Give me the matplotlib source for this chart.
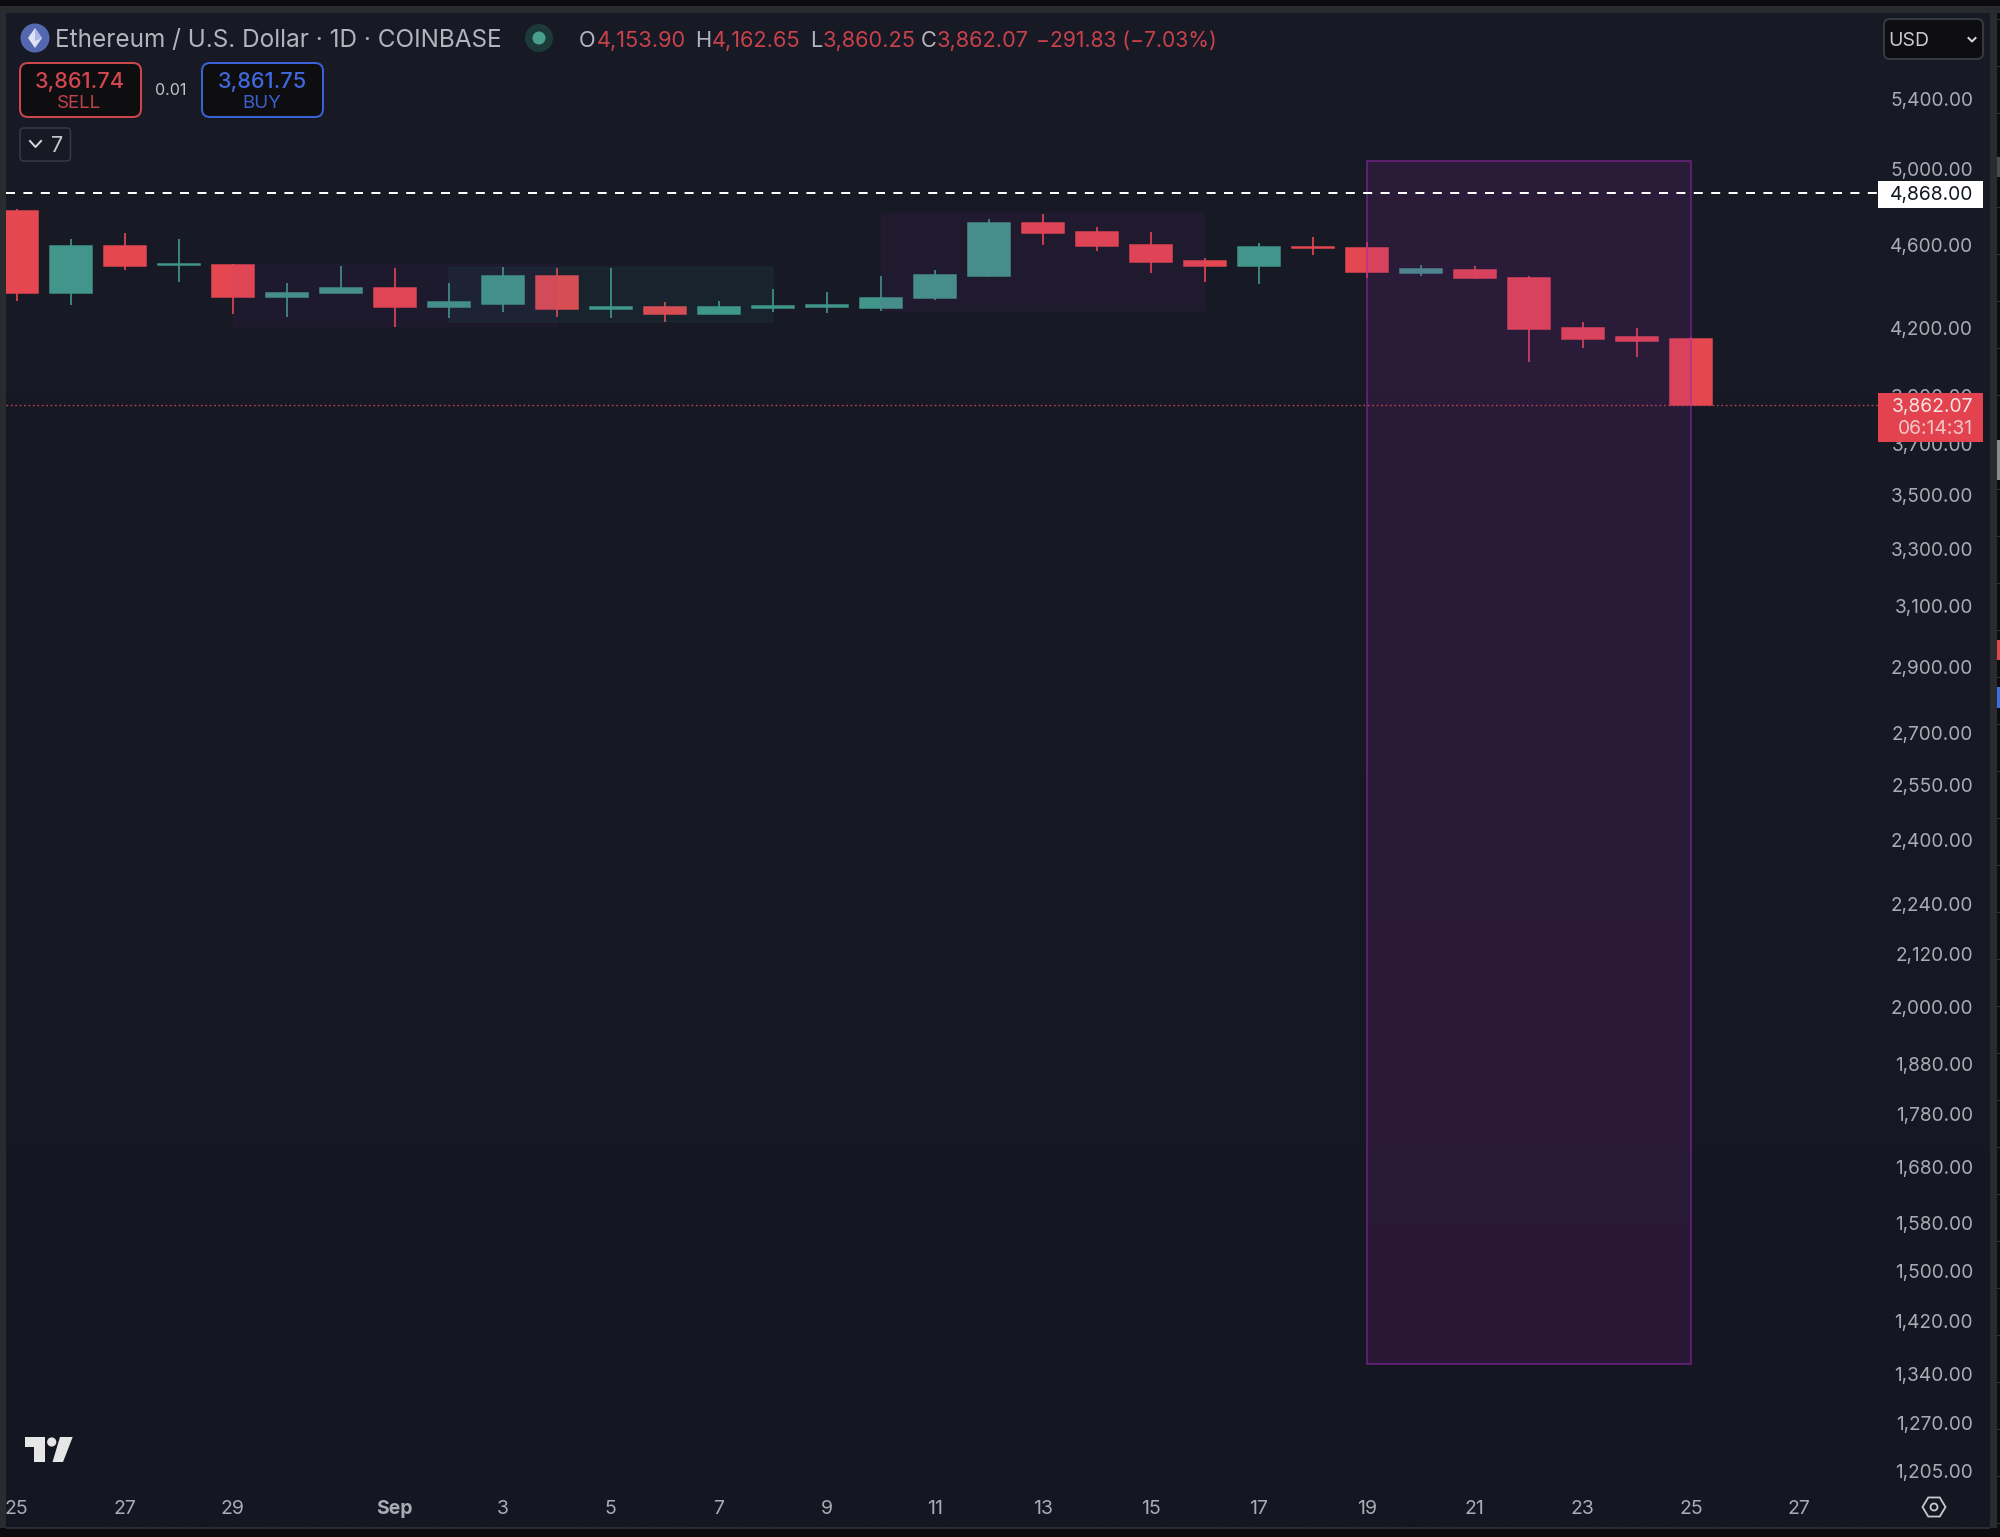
import numpy as np
import matplotlib
matplotlib.use("Agg")
import matplotlib.pyplot as plt
from matplotlib.patches import FancyBboxPatch, Rectangle, Circle, Polygon
from matplotlib.ticker import FixedLocator, FixedFormatter, NullLocator

plt.rcParams['font.family'] = ['Inter', 'DejaVu Sans']

# ---------- data ----------
days = list(range(32))  # 0 = 25 Aug ... 31 = 25 Sep
opens = [4773, 4368, 4594, 4504, 4504, 4349, 4364, 4388, 4302, 4316, 4446, 4288, 4302, 4265, 4297, 4302,
         4297, 4340, 4450, 4711, 4665, 4599, 4519, 4495, 4589, 4584, 4460, 4475, 4440, 4200, 4159, 4153.90]
highs = [4788, 4629, 4660, 4629, 4509, 4412, 4495, 4485, 4416, 4490, 4485, 4485, 4321, 4330, 4383, 4373,
         4450, 4475, 4736, 4762, 4690, 4665, 4534, 4609, 4644, 4614, 4504, 4495, 4450, 4228, 4200, 4162.65]
lows = [4330, 4307, 4475, 4421, 4265, 4251, 4364, 4205, 4246, 4274, 4255, 4246, 4232, 4265, 4274, 4270,
        4279, 4335, 4445, 4599, 4569, 4460, 4421, 4407, 4549, 4436, 4450, 4434, 4050, 4113, 4069, 3860.25]
closes = [4368, 4594, 4495, 4509, 4349, 4368, 4388, 4302, 4321, 4446, 4288, 4302, 4265, 4302, 4304, 4307,
          4344, 4455, 4711, 4660, 4594, 4514, 4495, 4589, 4584, 4465, 4480, 4436, 4196, 4154, 4141, 3862.07]

price_ticks = [5400, 5000, 4600, 4200, 3900, 3700, 3500, 3300, 3100, 2900, 2700, 2550, 2400, 2240, 2120,
               2000, 1880, 1780, 1680, 1580, 1500, 1420, 1340, 1270, 1205]
date_ticks = [0, 2, 4, 7, 9, 11, 13, 15, 17, 19, 21, 23, 25, 27, 29, 31, 33]
date_labels = ['25', '27', '29', 'Sep', '3', '5', '7', '9', '11', '13', '15', '17', '19', '21', '23', '25', '27']

target_price = 4868.00
last_price = 3862.07

# rectangles: (day start, day end, price low, price high)
box_big = (25, 31, 1355, 5046)
box_a = (4, 10, 4205, 4509)
box_b = (8, 14, 4232, 4490)
box_c = (16, 22, 4279, 4767)

title_text = 'Ethereum / U.S. Dollar · 1D · COINBASE'
ohlc_parts = [('O', 579, 'g'), ('4,153.90', 597, 'r'), ('H', 695, 'g'), ('4,162.65', 712, 'r'),
              ('L', 810, 'g'), ('3,860.25', 823, 'r'), ('C', 921, 'g'), ('3,862.07', 937, 'r'),
              ('−291.83 (−7.03%)', 1036, 'r')]

# ---------- colours ----------
RED = '#e4474f'
GREEN = '#41958a'
TXT = '#a9acb5'
PX = 0.72

W, H = 2000, 1537
fig = plt.figure(figsize=(20, 15.37), dpi=100, facecolor='#0c0c0e')

# panel background (subtle vertical gradient)
bg = fig.add_axes([0, 0, 1, 1], zorder=0)
bg.set_xlim(0, W); bg.set_ylim(H, 0); bg.axis('off')
top = np.array([0x18, 0x1b, 0x26]) / 255
bot = np.array([0x14, 0x16, 0x21]) / 255
grad = np.linspace(0, 1, 256)[:, None, None] * (bot - top) + top
bg.imshow(grad, extent=(6, 1990, 1527, 13), aspect='auto', zorder=1, interpolation='bilinear')
bg.set_xlim(0, W); bg.set_ylim(H, 0)
edge = '#2a2b2e'
bg.add_patch(Rectangle((0, 6), 2000, 7, fc=edge, ec='none', zorder=0.5))
bg.add_patch(Rectangle((0, 6), 6, 1522, fc=edge, ec='none', zorder=0.5))
bg.add_patch(Rectangle((1990, 6), 7, 1522, fc=edge, ec='none', zorder=0.5))
bg.add_patch(Rectangle((6, 1527), 1984, 2, fc=edge, ec='none', zorder=2))
# window edge details at far right
for y in np.arange(13, 1527, 47.0) + 6:
    bg.add_patch(Rectangle((1997, y), 3, 1, fc='#303134', ec='none', zorder=0.6))
bg.add_patch(Rectangle((1997, 157), 3, 20, fc='#4a4b4f', ec='none', zorder=0.7))
bg.add_patch(Rectangle((1997, 440), 3, 40, fc='#8a8b8f', ec='none', zorder=0.7))
bg.add_patch(Rectangle((1997, 640), 3, 20, fc='#e2434f', ec='none', zorder=0.7))
bg.add_patch(Rectangle((1997, 687), 3, 21, fc='#3a6fe0', ec='none', zorder=0.7))

# main chart
L, R, T, B = 6, 1878, 13, 1490
ax = fig.add_axes([L / W, 1 - B / H, (R - L) / W, (B - T) / H], zorder=1)
ax.patch.set_alpha(0)
ax.set_yscale('log')
ax.set_xlim(-0.2, 34.466)
ax.set_ylim(1180.1, 5929)
for s in ax.spines.values():
    s.set_visible(False)

cols = [GREEN if c >= o else RED for o, c in zip(opens, closes)]
ax.vlines(days, lows, highs, colors=cols, linewidth=1.7 * PX, zorder=2)
ax.bar(days, [c - o for o, c in zip(opens, closes)], bottom=opens, width=0.775, color=cols,
       edgecolor=cols, linewidth=1.5 * PX, zorder=3)


def box(b, color, alpha, edge_alpha=0.0):
    x0, x1, lo, hi = b
    ax.add_patch(Rectangle((x0, lo), x1 - x0, hi - lo, fc=matplotlib.colors.to_rgba(color, alpha),
                           ec=matplotlib.colors.to_rgba(color, edge_alpha), linewidth=1.5 * PX, zorder=4))


box(box_a, '#9c27b0', 0.06, 0.02)
box(box_b, '#26a69a', 0.07, 0.05)
box(box_c, '#9c27b0', 0.07, 0.02)
box(box_big, '#9c27b0', 0.15, 0.65)

ax.axhline(target_price, color='white', linewidth=2 * PX, dashes=(9 / 2, 8.4 / 2), zorder=5)
ax.axhline(last_price, color='#d0454f', linewidth=1.3 * PX, dashes=(1.2, 2.2), zorder=5)

ax.yaxis.tick_right()
ax.yaxis.set_major_locator(FixedLocator(price_ticks))
ax.yaxis.set_major_formatter(FixedFormatter([f'{p:,.2f}' for p in price_ticks]))
ax.yaxis.set_minor_locator(NullLocator())
ax.tick_params(axis='y', which='major', length=0, pad=95 * PX, labelsize=13.7, labelcolor=TXT)
for t in ax.get_yticklabels():
    t.set_ha('right')

ax.xaxis.set_major_locator(FixedLocator(date_ticks))
ax.xaxis.set_major_formatter(FixedFormatter(date_labels))
ax.tick_params(axis='x', length=0, pad=7.5, labelsize=14, labelcolor=TXT)
for t, s in zip(ax.get_xticklabels(), date_labels):
    if s == 'Sep':
        t.set_fontweight('bold')

# overlay UI in pixel coordinates
ui = fig.add_axes([0, 0, 1, 1], zorder=3)
ui.set_xlim(0, W); ui.set_ylim(H, 0); ui.axis('off'); ui.patch.set_alpha(0)


def rbox(x0, y0, x1, y1, fc, ec, r=6, lw=1.5):
    ui.add_patch(FancyBboxPatch((x0 + r, y0 + r), x1 - x0 - 2 * r, y1 - y0 - 2 * r,
                                boxstyle=f'round,pad={r},rounding_size={r}', fc=fc, ec=ec, linewidth=lw * PX))


# logo + title
ui.add_patch(Circle((35, 38), 14.5, fc='#5468b0', ec='none'))
ui.add_patch(Polygon([(35, 28), (42, 38), (35, 48), (28, 38)], fc='#dde3f5', ec='none'))
ui.add_patch(Polygon([(35, 28), (42, 38), (35, 41)], fc='#a9b6e6', ec='none'))
ui.text(55, 40, title_text, color='#b2b5be', fontsize=17.5, va='center', ha='left')
ui.add_patch(Circle((539, 38), 14, fc='#1c3a38', ec='none'))
ui.add_patch(Circle((539, 38), 6.5, fc='#46a08c', ec='none'))
for s, x, c in ohlc_parts:
    ui.text(x, 41, s, color='#c8414b' if c == 'r' else '#b2b5be', fontsize=15.2 if s[0] == '−' else 15.7,
            va='center', ha='left')

# sell / buy
rbox(20, 63, 141, 117, '#0e0e11', '#c9474d', r=8, lw=2)
ui.text(80, 81.5, '3,861.74', color='#d0474f', fontsize=15.6, fontweight='medium', va='center', ha='center')
ui.text(79, 103, 'SELL', color='#c0424a', fontsize=13.5, va='center', ha='center')
ui.text(171, 90.5, '0.01', color='#c4c4c8', fontsize=11.5, va='center', ha='center')
rbox(202, 63, 323, 117, '#0e0e11', '#3a62d6', r=8, lw=2)
ui.text(262, 81.5, '3,861.75', color='#3f68dc', fontsize=15.6, fontweight='medium', va='center', ha='center')
ui.text(262, 103, 'BUY', color='#3a60cc', fontsize=13.5, va='center', ha='center')

# collapse button
rbox(20, 128, 70.5, 161, 'none', '#363a45', r=4, lw=1.5)
ui.plot([30, 35.5, 41], [141, 147, 141], color='#d8d8dc', linewidth=2 * PX)
ui.text(57, 145.5, '7', color='#c8c8cc', fontsize=15.5, va='center', ha='center')

# USD
rbox(1884, 19, 1983, 59, '#0e0e11', '#3a3d46', r=6, lw=1.8)
ui.text(1888, 40.5, 'USD', color='#c8c9ce', fontsize=14, va='center', ha='left')
ui.plot([1968.5, 1972, 1975.5], [38, 41.5, 38], color='#d8d8dc', linewidth=2 * PX)

# price tags
ui.add_patch(Rectangle((1878, 181), 105, 27, fc='white', ec='none'))
ui.text(1973, 195, '4,868.00', color='#131722', fontsize=13.9, va='center', ha='right')
ui.add_patch(Rectangle((1878, 393), 105, 49, fc='#e2434f', ec='none'))
ui.text(1973, 407, '3,862.07', color='#f6e3e3', fontsize=13.9, va='center', ha='right')
ui.text(1973, 428.5, '06:14:31', color='#f3c6c8', fontsize=13.9, va='center', ha='right')

# TV logo
lc = '#e6e6e6'
ui.add_patch(Polygon([(25, 1437), (44.5, 1437), (44.5, 1462), (33.5, 1462), (33.5, 1447), (25, 1447)], fc=lc, ec='none'))
ui.add_patch(Circle((51.7, 1442), 4.6, fc=lc, ec='none'))
ui.add_patch(Polygon([(60, 1437), (72.7, 1437), (63, 1462), (52.5, 1462)], fc=lc, ec='none'))

# settings icon
ang = np.deg2rad(np.arange(0, 360, 60))
ui.add_patch(Polygon(np.c_[1934 + 11.5 * np.cos(ang), 1507 + 11 * np.sin(ang)], fc='none', ec='#c8c9ce', linewidth=1.8 * PX))
ui.add_patch(Circle((1934, 1507), 3.5, fc='none', ec='#c8c9ce', linewidth=1.8 * PX))

fig.savefig('out.png', dpi=100, facecolor=fig.get_facecolor())
